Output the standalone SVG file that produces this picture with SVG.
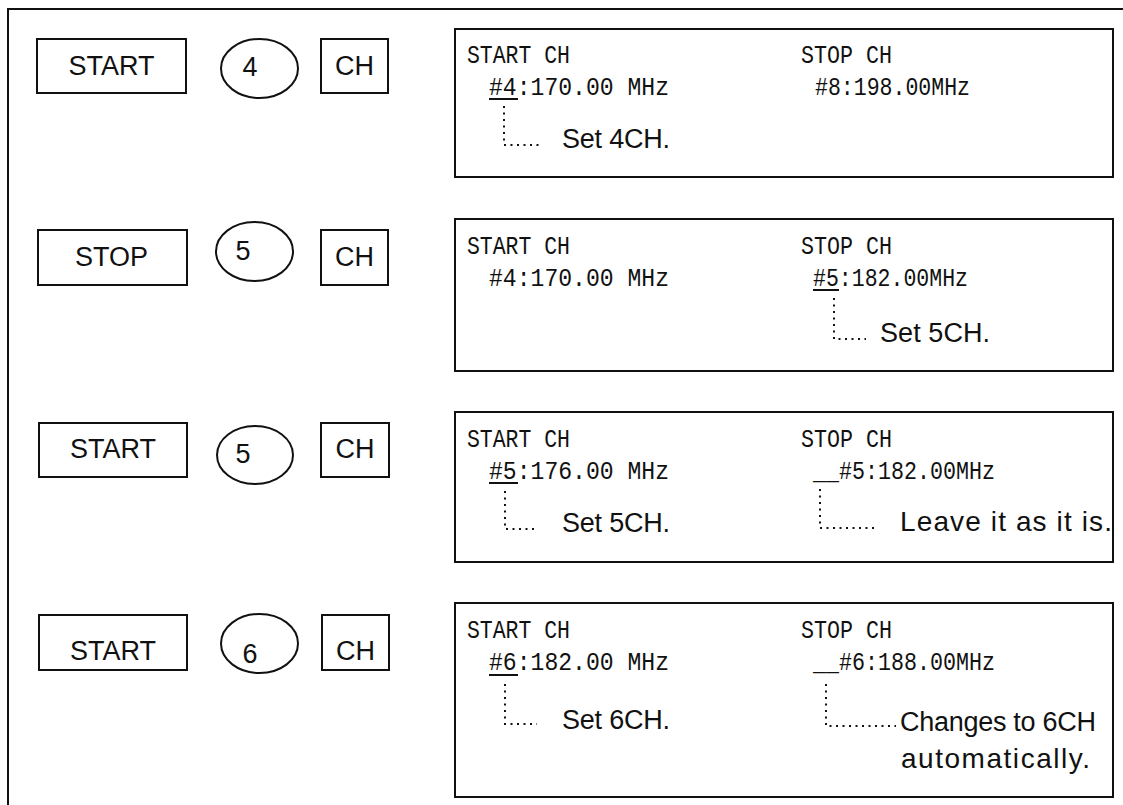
<svg xmlns="http://www.w3.org/2000/svg" width="1123" height="805" viewBox="0 0 1123 805">
<style>
.bx{fill:none;stroke:#111;stroke-width:2}
.key{font-family:"Liberation Sans",Arial,sans-serif;font-size:27px;fill:#111;text-anchor:middle}
.mono{font-family:"Liberation Mono","DejaVu Sans Mono",monospace;font-size:26px;fill:#111}
.note{font-family:"Liberation Sans",Arial,sans-serif;font-size:27px;fill:#111}
.big{font-size:28px}
.ul{stroke:#111;stroke-width:2}
.dot{fill:none;stroke:#111;stroke-width:2;stroke-dasharray:2 4.5}
</style>
<rect width="1123" height="805" fill="#fff"/>
<path d="M8,805 V9 H1123" class="bx"/>

<!-- Row 1 -->
<g id="row1-keys">
  <rect class="bx" x="37" y="39" width="149" height="54"/>
  <text class="key" x="111.5" y="75">START</text>
  <ellipse class="bx" cx="259.5" cy="68.5" rx="38.5" ry="29.5"/>
  <text class="key" x="250" y="76">4</text>
  <rect class="bx" x="321" y="39" width="67" height="54"/>
  <text class="key" x="354.5" y="75">CH</text>
</g>
<g id="row1-display">
  <rect class="bx" x="455" y="29" width="658" height="148"/>
  <text class="mono" x="467" y="63" textLength="103" lengthAdjust="spacingAndGlyphs">START CH</text>
  <text class="mono" x="489" y="95" textLength="180" lengthAdjust="spacingAndGlyphs">#4:170.00 MHz</text>
  <line class="ul" x1="489" y1="99" x2="518" y2="99"/>
  <text class="mono" x="801" y="63" textLength="91" lengthAdjust="spacingAndGlyphs">STOP CH</text>
  <text class="mono" x="815" y="95" textLength="155" lengthAdjust="spacingAndGlyphs">#8:198.00MHz</text>
  <text class="note" x="562" y="148" textLength="108">Set 4CH.</text>
</g>

<!-- Row 2 -->
<g id="row2-keys">
  <rect class="bx" x="38" y="230" width="149" height="55"/>
  <text class="key" x="111.5" y="266">STOP</text>
  <ellipse class="bx" cx="254.5" cy="251.5" rx="38.5" ry="29.5"/>
  <text class="key" x="243" y="260">5</text>
  <rect class="bx" x="321" y="230" width="67" height="55"/>
  <text class="key" x="354.5" y="266">CH</text>
</g>
<g id="row2-display">
  <rect class="bx" x="455" y="219" width="658" height="152"/>
  <text class="mono" x="467" y="254" textLength="103" lengthAdjust="spacingAndGlyphs">START CH</text>
  <text class="mono" x="489" y="286" textLength="180" lengthAdjust="spacingAndGlyphs">#4:170.00 MHz</text>
  <text class="mono" x="801" y="254" textLength="91" lengthAdjust="spacingAndGlyphs">STOP CH</text>
  <text class="mono" x="813" y="286" textLength="155" lengthAdjust="spacingAndGlyphs">#5:182.00MHz</text>
  <line class="ul" x1="813" y1="290" x2="839" y2="290"/>
  <text class="note" x="880" y="342" textLength="110">Set 5CH.</text>
</g>

<!-- Row 3 -->
<g id="row3-keys">
  <rect class="bx" x="39" y="423" width="148" height="54"/>
  <text class="key" x="113" y="458">START</text>
  <ellipse class="bx" cx="255" cy="455" rx="38" ry="29"/>
  <text class="key" x="243" y="463">5</text>
  <rect class="bx" x="321" y="423" width="68" height="54"/>
  <text class="key" x="355" y="458">CH</text>
</g>
<g id="row3-display">
  <rect class="bx" x="455" y="412" width="658" height="150"/>
  <text class="mono" x="467" y="447" textLength="103" lengthAdjust="spacingAndGlyphs">START CH</text>
  <text class="mono" x="489" y="479" textLength="180" lengthAdjust="spacingAndGlyphs">#5:176.00 MHz</text>
  <line class="ul" x1="489" y1="483" x2="518" y2="483"/>
  <text class="mono" x="801" y="447" textLength="91" lengthAdjust="spacingAndGlyphs">STOP CH</text>
  <text class="mono" x="813" y="479" textLength="182" lengthAdjust="spacingAndGlyphs">__#5:182.00MHz</text>
  <text class="note" x="562" y="532" textLength="108">Set 5CH.</text>
  <text class="note big" x="900" y="531" textLength="212">Leave it as it is.</text>
</g>

<!-- Row 4 -->
<g id="row4-keys">
  <rect class="bx" x="39" y="615" width="148" height="55"/>
  <text class="key" x="113" y="660">START</text>
  <ellipse class="bx" cx="259.5" cy="643.5" rx="38.5" ry="29.5"/>
  <text class="key" x="250" y="663">6</text>
  <rect class="bx" x="322" y="615" width="67" height="55"/>
  <text class="key" x="355.5" y="660">CH</text>
</g>
<g id="row4-display">
  <rect class="bx" x="455" y="603" width="658" height="194"/>
  <text class="mono" x="467" y="638" textLength="103" lengthAdjust="spacingAndGlyphs">START CH</text>
  <text class="mono" x="489" y="670" textLength="180" lengthAdjust="spacingAndGlyphs">#6:182.00 MHz</text>
  <line class="ul" x1="489" y1="675" x2="518" y2="675"/>
  <text class="mono" x="801" y="638" textLength="91" lengthAdjust="spacingAndGlyphs">STOP CH</text>
  <text class="mono" x="813" y="670" textLength="182" lengthAdjust="spacingAndGlyphs">__#6:188.00MHz</text>
  <text class="note" x="562" y="729" textLength="108">Set 6CH.</text>
  <text class="note" x="900" y="731" textLength="196">Changes to 6CH</text>
  <text class="note big" x="901" y="768" textLength="189">automatically.</text>
</g>

<!-- dotted leader connectors -->
<g id="connectors">
  <path class="dot" d="M504,106 V145 H543"/>
  <path class="dot" d="M834,298 V339 H866"/>
  <path class="dot" d="M505,491 V529 H537"/>
  <path class="dot" d="M820,489 V528 H875"/>
  <path class="dot" d="M505,684 V724 H537"/>
  <path class="dot" d="M826,684 V726 H896"/>
</g>
</svg>
